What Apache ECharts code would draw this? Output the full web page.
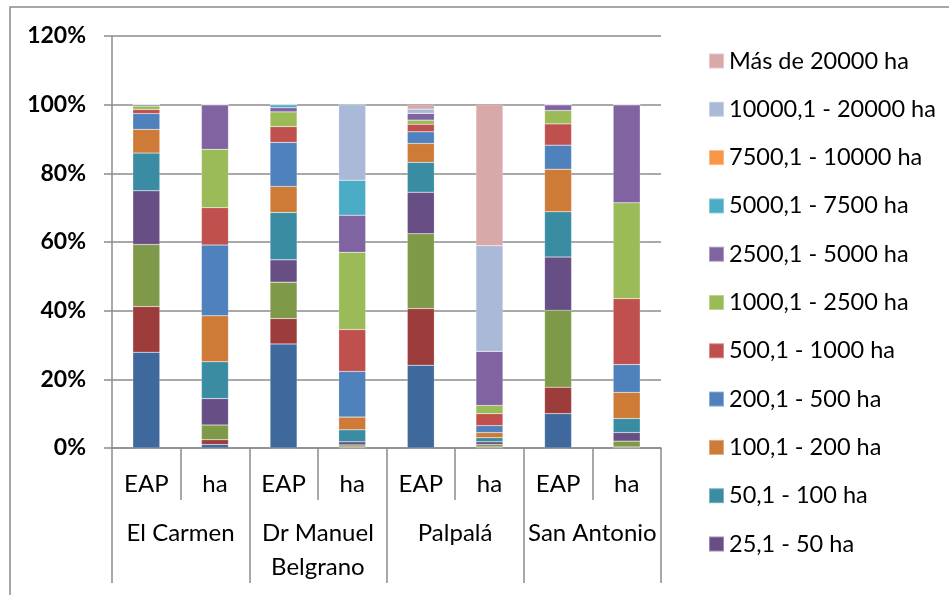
<!DOCTYPE html>
<html>
<head>
<meta charset="utf-8">
<script src="https://cdn.jsdelivr.net/npm/echarts@6/dist/echarts.min.js"></script>
<style>
html,body{margin:0;padding:0;background:#fff;}
#chart{width:949px;height:595px;}
</style>
</head>
<body>
<div id="chart"></div>
<script>
const categories = ['EAP','ha','EAP','ha','EAP','ha','EAP','ha'];
const groups = ['El Carmen','Dr Manuel\nBelgrano','Palpalá','San Antonio'];
const yTicks = [0, 20, 40, 60, 80, 100, 120];

const seriesNames = [
  'Hasta 5 ha','5,1 - 10 ha','10,1 - 25 ha','25,1 - 50 ha','50,1 - 100 ha',
  '100,1 - 200 ha','200,1 - 500 ha','500,1 - 1000 ha','1000,1 - 2500 ha',
  '2500,1 - 5000 ha','5000,1 - 7500 ha','7500,1 - 10000 ha',
  '10000,1 - 20000 ha','Más de 20000 ha'
];

const hasta5      = [27.9, 1.0, 30.3, 0.1, 24.1, 0.1, 10.0, 0.1];
const s5a10       = [13.3, 1.4,  7.4, 0.2, 16.5, 0.2,  7.7, 0.2];
const s10a25      = [18.1, 4.3, 10.6, 0.6, 21.8, 0.7, 22.4, 1.7];
const s25a50      = [15.6, 7.7,  6.5, 0.9, 12.1, 0.8, 15.5, 2.5];
const s50a100     = [11.0,10.7, 13.8, 3.5,  8.7, 1.2, 13.2, 4.1];
const s100a200    = [ 6.9,13.4,  7.6, 3.7,  5.5, 1.5, 12.4, 7.6];
const s200a500    = [ 4.6,20.6, 12.8,13.3,  3.4, 2.0,  7.0, 8.1];
const s500a1000   = [ 1.2,10.9,  4.6,12.2,  2.2, 3.5,  6.2,19.2];
const s1000a2500  = [ 1.0,17.0,  4.3,22.5,  1.2, 2.4,  3.9,27.9];
const s2500a5000  = [ 0.4,13.0,  1.2,10.8,  2.0,15.8,  1.7,28.6];
const s5000a7500  = [ 0.0, 0.0,  0.9,10.2,  0.0, 0.0,  0.0, 0.0];
const s7500a10000 = [ 0.0, 0.0,  0.0, 0.0,  0.0, 0.0,  0.0, 0.0];
const s10000a20000= [ 0.0, 0.0,  0.0,22.0,  1.2,30.7,  0.0, 0.0];
const mas20000    = [ 0.0, 0.0,  0.0, 0.0,  1.3,41.1,  0.0, 0.0];

const seriesValues = [hasta5, s5a10, s10a25, s25a50, s50a100, s100a200, s200a500,
  s500a1000, s1000a2500, s2500a5000, s5000a7500, s7500a10000, s10000a20000, mas20000];

const colors = ['#3F699C','#9C3D3B','#7E9A48','#674F85','#3A8CA3','#CD7B37',
  '#4F81BD','#C0504D','#9BBB59','#8064A2','#4BACC6','#F79646','#AAB9D8','#D9A9AA'];

const legendNames = seriesNames.slice(3).reverse();

const gray = '#8c8c8c';
const font = 'Lato';

const chart = echarts.init(document.getElementById('chart'));
chart.setOption({
  animation: false,
  textStyle: { fontFamily: font },
  color: colors,
  graphic: [{
    type: 'rect',
    shape: { x: 10, y: 7, width: 1000, height: 1000 },
    style: { fill: 'none', stroke: '#8a8a8a', lineWidth: 1.5 },
    silent: true
  }],
  grid: { left: 112, right: 288, top: 36, bottom: 147, containLabel: false },
  legend: {
    data: legendNames,
    orient: 'vertical',
    left: 703,
    top: 44,
    itemWidth: 15,
    itemHeight: 15,
    itemGap: 24.3,
    icon: 'rect',
    textStyle: { fontFamily: font, fontSize: 23.5, color: '#000', lineHeight: 24 },
    selectedMode: false
  },
  xAxis: [{
    type: 'category',
    data: categories,
    position: 'bottom',
    axisLine: { show: true, lineStyle: { color: gray, width: 1.5 } },
    axisTick: { show: true, interval: 0, length: 52, lineStyle: { color: gray, width: 1.5 } },
    axisLabel: { interval: 0, margin: 24, fontSize: 24, color: '#000', fontFamily: font }
  }, {
    type: 'category',
    data: groups,
    position: 'bottom',
    offset: 0,
    axisLine: { show: false },
    axisTick: { show: true, interval: 0, length: 135, lineStyle: { color: gray, width: 1.5 } },
    axisLabel: { interval: 0, margin: 68, fontSize: 24, lineHeight: 34, color: '#000', fontFamily: font }
  }],
  yAxis: {
    type: 'value',
    min: yTicks[0],
    max: yTicks[yTicks.length - 1],
    interval: 20,
    axisLine: { show: true, lineStyle: { color: gray, width: 1.5 } },
    axisTick: { show: true, length: 8, lineStyle: { color: gray, width: 1.5 } },
    axisLabel: { formatter: '{value}%', margin: 26, fontSize: 23, fontWeight: 'bold', color: '#000', fontFamily: font },
    splitLine: { show: true, lineStyle: { color: gray, width: 1.5 } }
  },
  series: seriesNames.map((name, i) => ({
    name: name,
    type: 'bar',
    stack: 'total',
    xAxisIndex: 0,
    barWidth: 27,
    data: seriesValues[i],
    itemStyle: { color: colors[i], borderColor: 'rgba(255,255,255,0.35)', borderWidth: 0.5 }
  }))
});
</script>
</body>
</html>
